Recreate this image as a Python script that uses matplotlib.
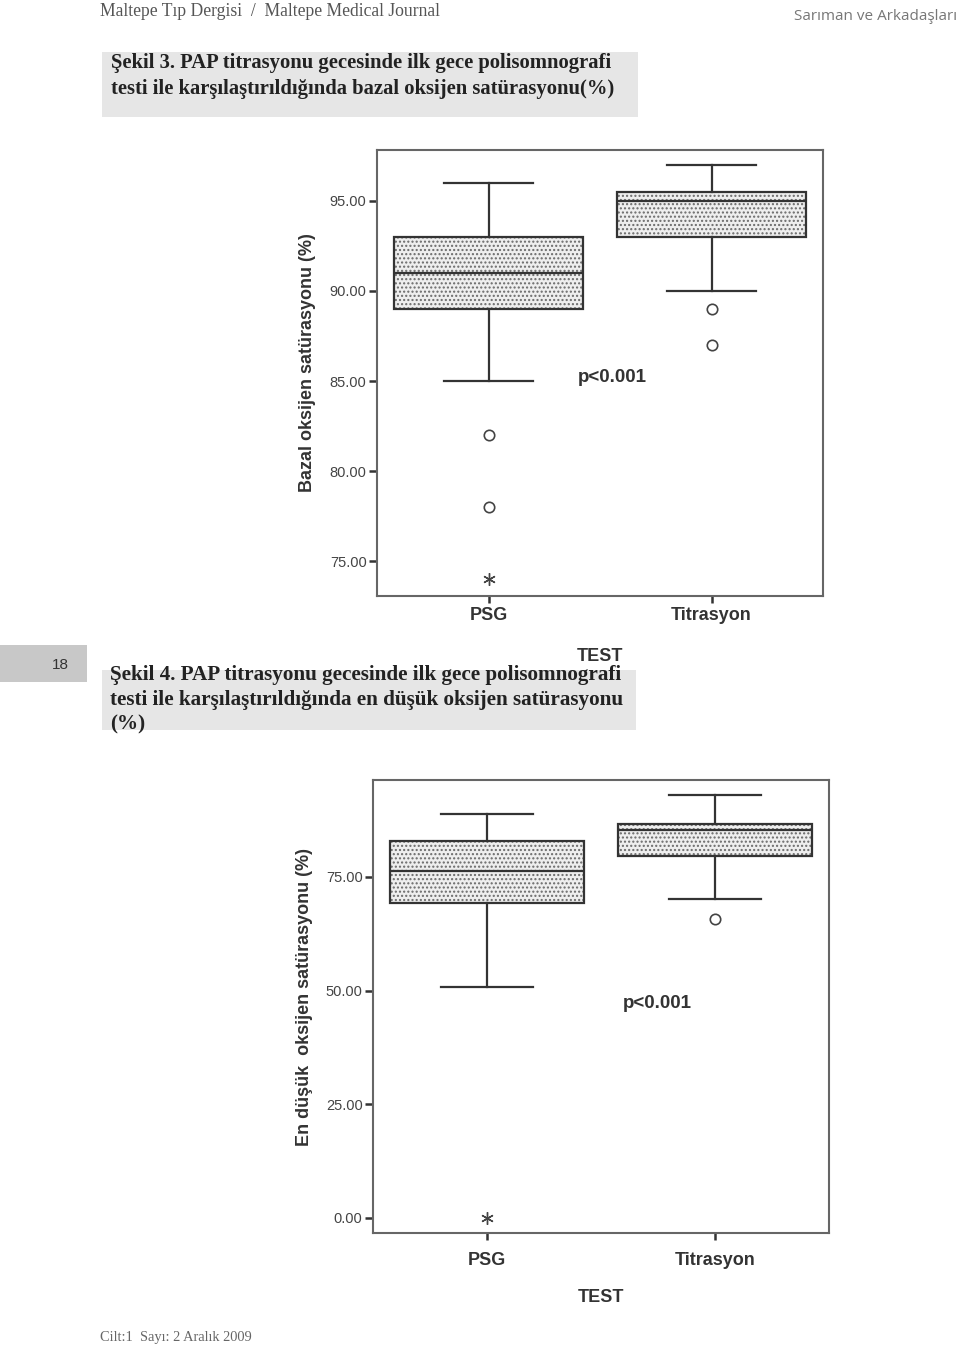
import matplotlib
matplotlib.use("Agg")
import matplotlib.pyplot as plt
from matplotlib.patches import Rectangle

# ---------------- data ----------------
categories = ["PSG", "Titrasyon"]

# Şekil 3: bazal oksijen satürasyonu (%)
bazal_whislo = [85.0, 90.0]
bazal_q1 = [89.0, 93.0]
bazal_med = [91.0, 95.0]
bazal_q3 = [93.0, 95.5]
bazal_whishi = [96.0, 97.0]
bazal_outliers = [[82.0, 78.0], [89.0, 87.0]]
bazal_extremes = [[74.0], []]
bazal_ticks = [75, 80, 85, 90, 95]

# Şekil 4: en düşük oksijen satürasyonu (%)
dusuk_whislo = [50.8, 70.2]
dusuk_q1 = [69.3, 79.6]
dusuk_med = [76.2, 85.4]
dusuk_q3 = [82.8, 86.7]
dusuk_whishi = [88.8, 93.0]
dusuk_outliers = [[], [65.8]]
dusuk_extremes = [[0.0], []]
dusuk_ticks = [0, 25, 50, 75]

W, H = 960, 1349
fig = plt.figure(figsize=(W / 100, H / 100), dpi=100)
fig.patch.set_facecolor("white")


def fx(x):
    return x / W


def fy(y):
    return 1 - y / H


SANS = ["Liberation Sans", "DejaVu Sans"]
SERIF = ["Liberation Serif", "DejaVu Serif"]

# ---------------- page decorations ----------------
fig.text(fx(100), fy(11), "Maltepe Tıp Dergisi  /  Maltepe Medical Journal",
         family=SERIF, fontsize=12.7, color="#555555", va="center", ha="left")
fig.text(fx(957), fy(16), "Sarıman ve Arkadaşları", family=["Open Sans", "DejaVu Sans"],
         fontsize=11, color="#777777", va="center", ha="right")

fig.add_artist(Rectangle((fx(102), fy(117)), fx(638) - fx(102), fy(52) - fy(117),
                         transform=fig.transFigure, facecolor="#e6e6e6", edgecolor="none", zorder=0))
fig.text(fx(111), fy(63), "Şekil 3. PAP titrasyonu gecesinde ilk gece polisomnografi",
         family=SERIF, fontweight="bold", fontsize=14.9, color="#222222", va="center", ha="left")
fig.text(fx(111), fy(89), "testi ile karşılaştırıldığında bazal oksijen satürasyonu(%)",
         family=SERIF, fontweight="bold", fontsize=14.9, color="#222222", va="center", ha="left")

fig.add_artist(Rectangle((fx(0), fy(682)), fx(87), fy(645) - fy(682),
                         transform=fig.transFigure, facecolor="#c8c8c8", edgecolor="none", zorder=0))
fig.text(fx(60), fy(665), "18", family=SANS, fontsize=11, color="#333333", va="center", ha="center")

fig.add_artist(Rectangle((fx(102), fy(730)), fx(636) - fx(102), fy(670) - fy(730),
                         transform=fig.transFigure, facecolor="#e6e6e6", edgecolor="none", zorder=0))
cap2 = ["Şekil 4. PAP titrasyonu gecesinde ilk gece polisomnografi",
        "testi ile karşılaştırıldığında en düşük oksijen satürasyonu",
        "(%)"]
for i, line in enumerate(cap2):
    fig.text(fx(110), fy(675 + 24.5 * i), line, family=SERIF, fontweight="bold", fontsize=15.2,
             color="#222222", va="center", ha="left")

fig.text(fx(100), fy(1337), "Cilt:1  Sayı: 2 Aralık 2009", family=SERIF, fontsize=10.4,
         color="#666666", va="center", ha="left")


# ---------------- chart helper ----------------
def draw_box_chart(rect, whislo, q1, med, q3, whishi, outliers, extremes, ticks,
                   ylim, ylabel, ylabel_xy, tick_pad, xlabel_pad, ptext_xy):
    ax = fig.add_axes(rect)
    stats = []
    for i, name in enumerate(categories):
        stats.append(dict(label=name, whislo=whislo[i], q1=q1[i], med=med[i],
                          q3=q3[i], whishi=whishi[i], fliers=outliers[i]))
    pos = list(range(len(categories)))
    # stippled fill
    ax.bxp(stats, positions=pos, widths=0.85, patch_artist=True, showcaps=False,
           showfliers=False,
           boxprops=dict(facecolor="#eeeeee", edgecolor="#6a6a6a", linewidth=0, hatch="...."),
           whiskerprops=dict(linewidth=0), medianprops=dict(linewidth=0))
    # outlines, whiskers, caps, outliers
    ax.bxp(stats, positions=pos, widths=0.85, patch_artist=True, capwidths=0.4,
           boxprops=dict(facecolor="none", edgecolor="#333333", linewidth=1.6),
           whiskerprops=dict(color="#333333", linewidth=1.6),
           capprops=dict(color="#333333", linewidth=1.6),
           medianprops=dict(color="#333333", linewidth=1.6),
           flierprops=dict(marker="o", markersize=7.5, markerfacecolor="white",
                           markeredgecolor="#444444", markeredgewidth=1.2))
    for i, ext in enumerate(extremes):
        if ext:
            ax.plot([pos[i]] * len(ext), ext, linestyle="none", marker=(6, 2, 0),
                    markersize=9, color="#444444", markeredgewidth=1.0)
    ax.set_xlim(-0.5, 1.5)
    ax.set_ylim(*ylim)
    ax.set_yticks(ticks)
    ax.set_yticklabels([f"{t:.2f}" for t in ticks], family=SANS, fontsize=10.5, color="#444444")
    ax.set_xticks(pos)
    ax.set_xticklabels(categories, family=SANS, fontsize=13, fontweight="bold", color="#333333")
    ax.tick_params(axis="y", direction="out", length=6, width=1.8, color="#333333", pad=1.5)
    ax.tick_params(axis="x", direction="out", length=5, width=1.8, color="#333333", pad=tick_pad)
    for s in ax.spines.values():
        s.set_color("#666666")
        s.set_linewidth(1.5)
    ax.set_xlabel("TEST", family=SANS, fontsize=13, fontweight="bold", color="#333333",
                  labelpad=xlabel_pad)
    ax.set_ylabel(ylabel, family=SANS, fontsize=13, fontweight="bold", color="#333333")
    ax.yaxis.set_label_coords(*ylabel_xy)
    ax.text(ptext_xy[0], ptext_xy[1], "p<0.001", transform=ax.transAxes, family=SANS,
            fontsize=13.5, fontweight="bold", color="#333333", ha="center", va="center")
    return ax


# Şekil 3 chart: frame 377..823 x, 150..596 y
draw_box_chart([fx(377), fy(596), fx(823) - fx(377), fy(150) - fy(596)],
               bazal_whislo, bazal_q1, bazal_med, bazal_q3, bazal_whishi,
               bazal_outliers, bazal_extremes, bazal_ticks,
               (73.06, 97.83), "Bazal oksijen satürasyonu (%)",
               ((316 - 377) / 446, (596 - 363) / 446), 3, 17,
               ((612 - 377) / 446, (596 - 377) / 446))

# Şekil 4 chart: frame 373..829 x, 780..1233 y
draw_box_chart([fx(373), fy(1233), fx(829) - fx(373), fy(780) - fy(1233)],
               dusuk_whislo, dusuk_q1, dusuk_med, dusuk_q3, dusuk_whishi,
               dusuk_outliers, dusuk_extremes, dusuk_ticks,
               (-3.3, 96.3), "En düşük  oksijen satürasyonu (%)",
               ((313 - 373) / 456, (1233 - 997) / 453), 8.5, 14.5,
               ((657 - 373) / 456, (1233 - 1004) / 453))

fig.savefig("out.png", dpi=100)
